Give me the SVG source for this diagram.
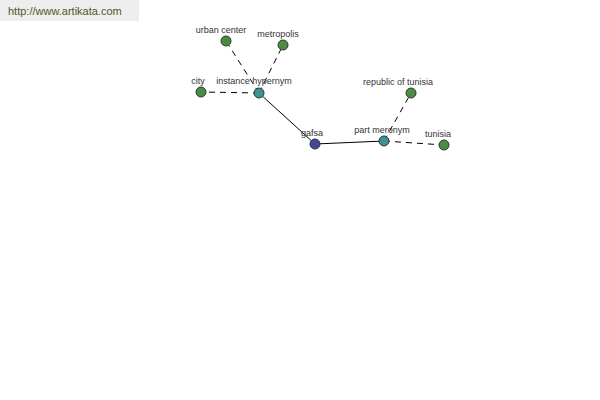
<svg xmlns="http://www.w3.org/2000/svg" width="600" height="400" viewBox="0 0 600 400">
<style>
.lbl{font-family:"Liberation Sans",Arial,sans-serif;font-size:9px;fill:#333;text-anchor:middle}
.n{stroke:#2a3a2a;stroke-width:1}
.g{fill:#4a8c44}
.t{fill:#3f9090}
.b{fill:#4646a0}
.e{stroke:#000;stroke-width:1;fill:none}
.d{stroke-dasharray:6,5}
</style>
<rect x="0" y="0" width="139" height="21" fill="#eeeeee"/>
<text x="8" y="15" font-family="'Liberation Sans',Arial,sans-serif" font-size="11" fill="#4a5a1a">http://www.artikata.com</text>
<g id="connectors">
<line class="e d" x1="259" y1="93" x2="226" y2="41"/>
<line class="e d" x1="259" y1="93" x2="283" y2="45"/>
<line class="e d" x1="259" y1="93" x2="201" y2="92"/>
<line class="e" x1="259" y1="93" x2="315" y2="144"/>
<line class="e" x1="315" y1="144" x2="384" y2="141"/>
<line class="e d" x1="384" y1="141" x2="411" y2="93"/>
<line class="e d" x1="384" y1="141" x2="444" y2="145"/>
</g>
<g id="urban-center"><circle class="n g" cx="226" cy="41" r="5"/><text class="lbl" x="221" y="33">urban center</text></g>
<g id="metropolis"><circle class="n g" cx="283" cy="45" r="5"/><text class="lbl" x="278" y="37">metropolis</text></g>
<g id="city"><circle class="n g" cx="201" cy="92" r="5"/><text class="lbl" x="198" y="84">city</text></g>
<g id="instance-hypernym"><circle class="n t" cx="259" cy="93" r="5"/><text class="lbl" x="254" y="84">instance hypernym</text></g>
<g id="gafsa"><circle class="n b" cx="315" cy="144" r="5"/><text class="lbl" x="312" y="136">gafsa</text></g>
<g id="part-meronym"><circle class="n t" cx="384" cy="141" r="5"/><text class="lbl" x="382" y="133">part meronym</text></g>
<g id="republic-of-tunisia"><circle class="n g" cx="411" cy="93" r="5"/><text class="lbl" x="398" y="85">republic of tunisia</text></g>
<g id="tunisia"><circle class="n g" cx="444" cy="145" r="5"/><text class="lbl" x="438" y="137">tunisia</text></g>
</svg>
